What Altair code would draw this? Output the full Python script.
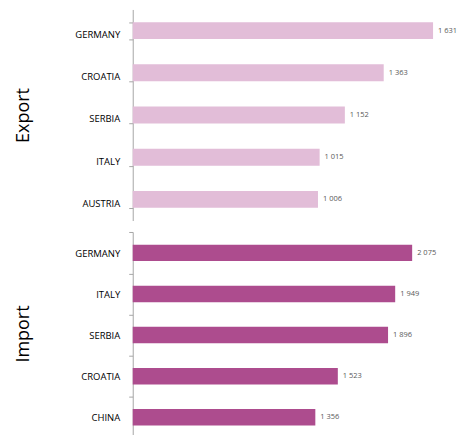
import altair as alt
import pandas as pd

export_countries = ["GERMANY", "CROATIA", "SERBIA", "ITALY", "AUSTRIA"]
export_values = [1631, 1363, 1152, 1015, 1006]
import_countries = ["GERMANY", "ITALY", "SERBIA", "CROATIA", "CHINA"]
import_values = [2075, 1949, 1896, 1523, 1356]


def fmt(v):
    return f"{v:,}".replace(",", " ")


AXIS_STYLE = dict(tickSize=4, tickColor="#a6a6a6", domainColor="#a6a6a6",
                  labelFont="Open Sans", labelFontWeight="normal",
                  labelFontSize=9.5, labelColor="#000000", labelPadding=9,
                  titleFont="Open Sans", titleFontSize=18,
                  titleFontWeight="normal", titleColor="#000000",
                  titlePadding=42)


def panel(countries, values, title, color, xmax, height, scale, axis_extra):
    df = pd.DataFrame({"country": countries, "value": values,
                       "label": [fmt(v) for v in values]})
    y = alt.Y("country:N", sort=countries, title=title, scale=scale,
              axis=alt.Axis(**AXIS_STYLE, **axis_extra))
    x = alt.X("value:Q", scale=alt.Scale(domain=[0, xmax], nice=False), axis=None)
    bars = alt.Chart(df).mark_bar(color=color).encode(x=x, y=y)
    text = alt.Chart(df).mark_text(align="left", dx=5, font="Open Sans",
                                   fontSize=7.5, color="#595959").encode(
        x=x, y=alt.Y("country:N", sort=countries), text="label:N")
    return (bars + text).properties(width=325, height=height)


top = panel(export_countries, export_values, "Export", "#e2bdd8", 1761, 211.5,
            alt.Scale(paddingInner=0.6, paddingOuter=0.3),
            dict(tickBand="extent", labelOffset=4))
bottom = panel(import_countries, import_values, "Import", "#ad4c8e", 2408, 203.5,
               alt.Scale(paddingInner=0.6, paddingOuter=0.27, align=0.57),
               dict(bandPosition=0, tickOffset=-12.36, labelOffset=12.9))

chart = alt.vconcat(top, bottom, spacing=10).properties(
    padding={"left": 6, "top": -4, "right": 0, "bottom": 0}
).configure_view(stroke=None)

chart.save("out.html", embed_options={"renderer": "svg", "actions": False})
